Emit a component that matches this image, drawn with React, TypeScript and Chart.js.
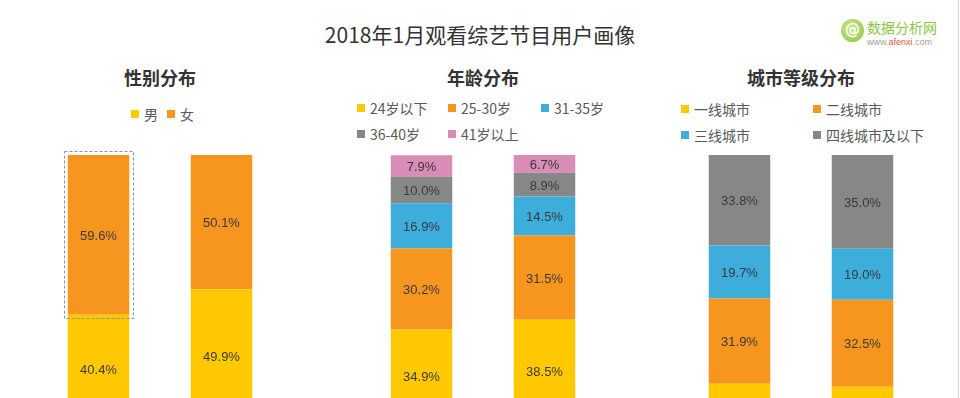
import React, { useEffect, useRef } from 'react';
import { Chart, registerables } from 'chart.js';

Chart.register(...registerables);

// ---------- data ----------
const groups = ['综艺节目用户', '全网用户'];

const genderSeries = ['男', '女'];
const genderMale = [40.4, 49.9];
const genderFemale = [59.6, 50.1];

const ageSeries = ['24岁以下', '25-30岁', '31-35岁', '36-40岁', '41岁以上'];
const ageUnder24 = [34.9, 38.5];
const age25to30 = [30.2, 31.5];
const age31to35 = [16.9, 14.5];
const age36to40 = [10.0, 8.9];
const age41plus = [7.9, 6.7];

const citySeries = ['一线城市', '二线城市', '三线城市', '四线城市及以下'];
const cityTier1 = [14.6, 13.5];
const cityTier2 = [31.9, 32.5];
const cityTier3 = [19.7, 19.0];
const cityTier4 = [33.8, 35.0];

const chartTitle = '2018年1月观看综艺节目用户画像';
const panelTitles = ['性别分布', '年龄分布', '城市等级分布'];

// ---------- styles ----------
const YELLOW = '#FFC800';
const ORANGE = '#F7961E';
const BLUE = '#3DADDC';
const GRAY = '#878787';
const PINK = '#D98CB5';

const CJK = '"Noto Sans CJK SC", "Microsoft YaHei", sans-serif';

const labelPlugin = {
  id: 'segLabels',
  afterDatasetsDraw(chart: any) {
    const ctx = chart.ctx;
    ctx.save();
    ctx.font = '13px "Liberation Sans", Arial, sans-serif';
    ctx.fillStyle = '#3a3a3a';
    ctx.textAlign = 'center';
    ctx.textBaseline = 'middle';
    chart.data.datasets.forEach((ds: any, i: number) => {
      const meta = chart.getDatasetMeta(i);
      meta.data.forEach((bar: any, j: number) => {
        const p = bar.getProps(['x', 'y', 'base'], true);
        ctx.fillText(Number(ds.data[j]).toFixed(1) + '%', p.x, (p.y + p.base) / 2 + 1.5);
      });
    });
    ctx.restore();
  },
};

function makeSelectionPlugin(dsIndex: number, idx: number) {
  return {
    id: 'selBox',
    afterDatasetsDraw(chart: any) {
      const bar = chart.getDatasetMeta(dsIndex).data[idx];
      if (!bar) return;
      const p = bar.getProps(['x', 'y', 'base', 'width'], true);
      const ctx = chart.ctx;
      ctx.save();
      ctx.setLineDash([3, 2]);
      ctx.strokeStyle = '#8a94a6';
      ctx.lineWidth = 1;
      const top = Math.min(p.y, p.base);
      const h = Math.abs(p.base - p.y);
      ctx.strokeRect(Math.round(p.x - p.width / 2) - 3.5, Math.round(top) - 3.5, Math.round(p.width) + 7, Math.round(h) + 7);
      ctx.restore();
    },
  };
}

type Series = { label: string; data: number[]; color: string };

function StackChart({ series, left, selection }: { series: Series[]; left: number; selection?: [number, number] }) {
  const ref = useRef<HTMLCanvasElement | null>(null);
  useEffect(() => {
    if (!ref.current) return;
    const plugins: any[] = [labelPlugin];
    if (selection) plugins.push(makeSelectionPlugin(selection[0], selection[1]));
    const chart = new Chart(ref.current, {
      type: 'bar',
      data: {
        labels: groups,
        datasets: series.map((s) => ({
          label: s.label,
          data: s.data,
          backgroundColor: s.color,
          borderWidth: 0,
          barPercentage: 0.5,
          categoryPercentage: 1,
        })),
      },
      options: {
        animation: false,
        responsive: false,
        maintainAspectRatio: false,
        devicePixelRatio: 1,
        layout: { padding: { top: 10, bottom: 12, left: 0, right: 0 } },
        plugins: {
          legend: { display: false },
          title: { display: false },
          tooltip: { enabled: false },
        },
        scales: {
          x: { stacked: true, display: false },
          y: { stacked: true, display: false, min: 0, max: 100 },
        },
      },
      plugins,
    } as any);
    return () => chart.destroy();
  }, []);
  return (
    <canvas
      ref={ref}
      width={246}
      height={290}
      style={{ position: 'absolute', left, top: 145, width: 246, height: 290 }}
    />
  );
}

function Legend({ series, left, top, cols }: { series: Series[]; left: number; top: number; cols: number[] }) {
  return (
    <div
      style={{
        position: 'absolute',
        left,
        top,
        display: 'grid',
        gridTemplateColumns: cols.map((c) => c + 'px').join(' '),
        gridAutoRows: '26px',
        fontFamily: CJK,
        fontSize: 14,
        color: '#595959',
      }}
    >
      {series.map((s) => (
        <div key={s.label} style={{ display: 'flex', alignItems: 'center', whiteSpace: 'nowrap' }}>
          <span style={{ width: 8, height: 8, background: s.color, marginRight: 5, display: 'inline-block' }} />
          <span>{s.label}</span>
        </div>
      ))}
    </div>
  );
}

export default function App() {
  const gender: Series[] = [
    { label: genderSeries[0], data: genderMale, color: YELLOW },
    { label: genderSeries[1], data: genderFemale, color: ORANGE },
  ];
  const age: Series[] = [
    { label: ageSeries[0], data: ageUnder24, color: YELLOW },
    { label: ageSeries[1], data: age25to30, color: ORANGE },
    { label: ageSeries[2], data: age31to35, color: BLUE },
    { label: ageSeries[3], data: age36to40, color: GRAY },
    { label: ageSeries[4], data: age41plus, color: PINK },
  ];
  const city: Series[] = [
    { label: citySeries[0], data: cityTier1, color: YELLOW },
    { label: citySeries[1], data: cityTier2, color: ORANGE },
    { label: citySeries[2], data: cityTier3, color: BLUE },
    { label: citySeries[3], data: cityTier4, color: GRAY },
  ];

  const panelCenters = [160, 483, 801];

  return (
    <div
      style={{
        position: 'fixed',
        left: 0,
        top: 0,
        width: 960,
        height: 398,
        overflow: 'hidden',
        background: '#ffffff',
      }}
    >
      <div
        style={{
          position: 'absolute',
          left: 0,
          width: 960,
          top: 20,
          textAlign: 'center',
          fontFamily: CJK,
          fontSize: 21,
          lineHeight: '28px',
          color: '#333333',
        }}
      >
        {chartTitle}
      </div>

      {/* logo */}
      <div
        style={{
          position: 'absolute',
          left: 841,
          top: 19,
          width: 23,
          height: 23,
          borderRadius: '50%',
          background: 'radial-gradient(circle at 40% 35%, #c9e68a, #8cc63f)',
          color: '#fff',
          fontFamily: '"DejaVu Sans", sans-serif',
          fontWeight: 'bold',
          fontSize: 15,
          lineHeight: '23px',
          textAlign: 'center',
        }}
      >
        @
      </div>
      <div
        style={{
          position: 'absolute',
          left: 867,
          top: 18,
          fontFamily: CJK,
          fontSize: 14,
          lineHeight: '18px',
          color: '#8cc63f',
          whiteSpace: 'nowrap',
        }}
      >
        数据分析网
      </div>
      <div
        style={{
          position: 'absolute',
          left: 867,
          top: 37,
          fontFamily: '"Liberation Sans", Arial, sans-serif',
          fontSize: 9,
          lineHeight: '11px',
          color: '#a0a0a0',
          whiteSpace: 'nowrap',
        }}
      >
        www.<span style={{ color: '#e8553e' }}>afenxi</span>.com
      </div>

      {panelTitles.map((t, i) => (
        <div
          key={t}
          style={{
            position: 'absolute',
            left: panelCenters[i] - 120,
            width: 240,
            top: 64,
            textAlign: 'center',
            fontFamily: CJK,
            fontSize: 18,
            fontWeight: 'bold',
            lineHeight: '26px',
            color: '#333333',
          }}
        >
          {t}
        </div>
      ))}

      <Legend series={gender} left={131} top={101} cols={[36, 40]} />
      <Legend series={age} left={357} top={95} cols={[91, 93, 80]} />
      <Legend series={city} left={681} top={96} cols={[132, 140]} />

      <StackChart series={gender} left={panelCenters[0] - 123} selection={[1, 0]} />
      <StackChart series={age} left={panelCenters[1] - 123} />
      <StackChart series={city} left={panelCenters[2] - 123} />

      <div style={{ position: 'absolute', left: 958, top: 0, width: 1, height: 398, background: '#d4d4d4' }} />
    </div>
  );
}
